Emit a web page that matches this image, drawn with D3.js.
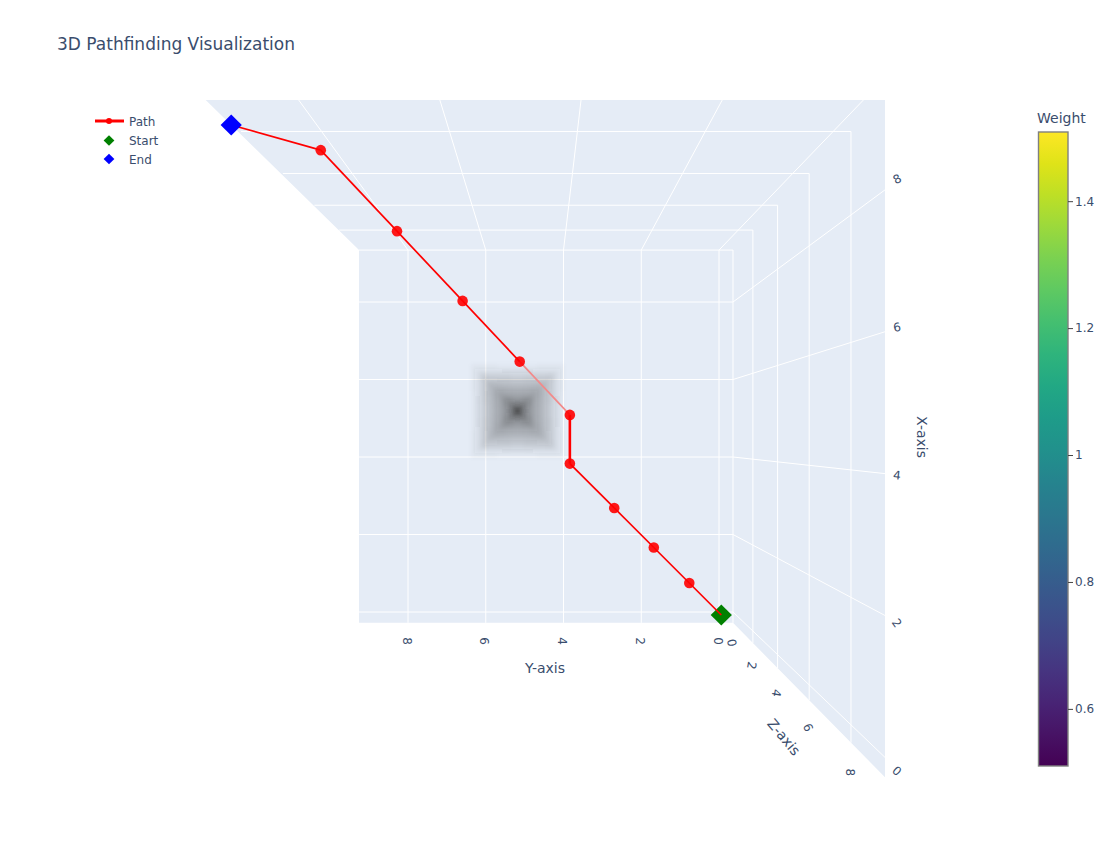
<!DOCTYPE html>
<html><head><meta charset="utf-8">
<script src="https://cdn.jsdelivr.net/npm/d3@7/dist/d3.min.js"></script>
<style>html,body{margin:0;padding:0;background:#fff}svg{display:block}text{font-family:"DejaVu Sans",Verdana,sans-serif;fill:#3a4d6d}</style>
</head><body><svg id="c" width="1118" height="856"></svg>
<script>
// ---- data ----
const chartTitle = "3D Pathfinding Visualization";
const pathX = [0,1,2,3,4,5,6,7,8,9,9];
const pathY = [0,1,2,3,4,4,5,6,7,8,9];
const pathZ = [0,1,2,3,4,4,5,6,7,8,9];
const fadedSegment = 5;
const axisTicks = [0,2,4,6,8];
const xRange = [-0.28,9.34], yRange = [-0.36,9.26], zRange = [0,9.26];
const obstacle = {x:5,y:5,z:5,halfSize:0.95};
// one quadrant of the obstacle's apparent opacity, centre first
const obstacleOpacity = [
 [.95,.66,.50,.42,.36,.30,.25,.19,.13,.07,.02],
 [.66,.68,.52,.43,.37,.31,.25,.19,.13,.07,.02],
 [.50,.52,.54,.45,.37,.31,.26,.20,.14,.07,.02],
 [.42,.43,.45,.46,.38,.32,.26,.20,.14,.07,.02],
 [.36,.37,.37,.38,.39,.32,.27,.20,.14,.08,.02],
 [.30,.31,.31,.32,.32,.33,.27,.21,.14,.08,.03],
 [.25,.25,.26,.26,.27,.27,.28,.21,.14,.08,.03],
 [.19,.19,.20,.20,.20,.21,.21,.22,.15,.08,.03],
 [.13,.13,.14,.14,.14,.14,.14,.15,.15,.08,.03],
 [.07,.07,.07,.07,.08,.08,.08,.08,.08,.08,.03],
 [.02,.02,.02,.02,.02,.03,.03,.03,.03,.03,.03]];
const colorbarDomain = [0.51,1.509];
const colorbarTicks = [0.6,0.8,1,1.2,1.4];
const legendItems = ["Path","Start","End"];
// text angles as they appear in the picture
const xTickAngles = [40,55,6,-10,-28];
const zTickAngles = [80,100,100,68,90];

// ---- projection ----
const svg = d3.select("#c");
const sideCentre = {cx:550, cy:437}, topCentre = {cx:542, cy:434};
const sy = d3.scaleLinear([0,8],[719,408]);
const sx = d3.scaleLinear([0,8],[612,302]);
const pathSy = d3.scaleLinear([0,9],[721.3,371.8]);
const pathSx = d3.scaleLinear([0,9],[615,262.6]);
const depth = d3.scaleLinear([0,8],[1,0.608]);
const projectWith = (c,X,Y,z)=>{const d=depth(z);return [c.cx+(X-c.cx)/d, c.cy+(Y-c.cy)/d];};
const project = (x,y,z,c=sideCentre)=>projectWith(c,sy(y),sx(x),z);
const markerPos = i=>projectWith(sideCentre,pathSy(pathY[i]),pathSx(pathX[i]),pathZ[i]);

svg.append("clipPath").attr("id","scene").append("rect").attr("x",0).attr("y",100).attr("width",885).attr("height",700);
const scene = svg.append("g").attr("clip-path","url(#scene)");

// walls
const [x0,x1]=xRange,[y0,y1]=yRange,[z0,z1]=zRange;
scene.append("polygon").attr("fill","#e5ecf6").attr("points",[
  project(x1,y1,z1),project(x1,y0,z1),project(x0,y0,z1),project(x0,y0,z0),
  project(x0,y1,z0),project(x1,y1,z0)].map(p=>p.join(",")).join(" "));

const gridSegs=[];
axisTicks.forEach(t=>{
  gridSegs.push([project(t,y0,z0),project(t,y1,z0)]);           // back wall, x
  gridSegs.push([project(x0,t,z0),project(x1,t,z0)]);           // back wall, y
  gridSegs.push([project(t,y0,z0),project(t,y0,z1)]);           // side wall, x
  gridSegs.push([project(x1,t,z0,topCentre),project(x1,t,z1,topCentre)]);   // top wall, y
  const corner=[project(x1,y0,t)[0],project(x1,y0,t,topCentre)[1]];
  gridSegs.push([project(x0,y0,t),corner]);                     // side wall, z
  gridSegs.push([corner,project(x1,y1,t,topCentre)]);           // top wall, z
});
scene.selectAll("line.grid").data(gridSegs).join("line").attr("class","grid")
  .attr("x1",d=>d[0][0]).attr("y1",d=>d[0][1]).attr("x2",d=>d[1][0]).attr("y2",d=>d[1][1])
  .attr("stroke","#fff").attr("stroke-width",1);

// obstacle
const defs=svg.append("defs");
defs.append("filter").attr("id","soft").attr("x","-20%").attr("y","-20%").attr("width","140%").attr("height","140%")
  .append("feGaussianBlur").attr("stdDeviation",2.2);
const oc=project(obstacle.x,obstacle.y,obstacle.z);
const oHalf=Math.abs(sy(obstacle.halfSize)-sy(0))/depth(obstacle.z);
const n=obstacleOpacity.length;
const cellOff=d3.scaleLinear([0,n],[0,oHalf]);
const cw=cellOff(1);
const cells=[];
for(let i=-n+1;i<n;i++)for(let j=-n+1;j<n;j++)cells.push({i,j,o:obstacleOpacity[Math.abs(j)][Math.abs(i)]});
scene.append("g").attr("filter","url(#soft)").selectAll("rect").data(cells).join("rect")
  .attr("x",d=>oc[0]+1+cellOff(d.i)-cw/2).attr("y",d=>oc[1]-1+cellOff(d.j)-cw/2)
  .attr("width",cw).attr("height",cw).attr("shape-rendering","crispEdges").attr("fill","#2e2e2e").attr("opacity",d=>d.o);

// path
const idx=d3.range(pathX.length);
scene.selectAll("line.path").data(idx.slice(0,-1)).join("line").attr("class","path")
  .attr("x1",i=>markerPos(i)[0]).attr("y1",i=>markerPos(i)[1])
  .attr("x2",i=>markerPos(i+1)[0]).attr("y2",i=>markerPos(i+1)[1])
  .attr("stroke",i=>i===fadedSegment?"#f28a8a":"#ff0000").attr("stroke-width",i=>i===4?2.6:1.7);
const diamond=(s)=>d3.symbol(d3.symbolSquare,s*s)();
const startPos=markerPos(0), endPos=markerPos(idx.length-1);
scene.insert("path","line.path").attr("d",diamond(15)).attr("fill","#008000")
  .attr("transform",`translate(${startPos}) rotate(45)`);
scene.selectAll("circle.node").data(idx.slice(1,-1)).join("circle").attr("class","node")
  .attr("cx",i=>markerPos(i)[0]).attr("cy",i=>markerPos(i)[1]).attr("r",5.3)
  .attr("fill","#ff0000").attr("fill-opacity",.9);
scene.append("path").attr("d",diamond(15)).attr("fill","#0000ff")
  .attr("transform",`translate(${endPos}) rotate(45)`);

// axis text
const tick=(x,y,t,a,size=12)=>svg.append("text").attr("transform",`translate(${x},${y}) rotate(${a})`)
  .attr("text-anchor","middle").attr("dy","0.36em").attr("font-size",size).text(t);
const xLabelY=d3.scaleLinear([0,8],[771,179]);
const yLabelX=d3.scaleLinear([0,8],[718,407]);
axisTicks.forEach((t,i)=>{
  tick(897,xLabelY(t),t,xTickAngles[i]);
  tick(yLabelX(t),641,t,90);
  const p=project(x0,y0,t);
  tick(p[0]-1,p[1]+20+1.2*t,t,zTickAngles[i]);
});
tick(545,668,"Y-axis",0,14);
tick(922,437,"X-axis",90,14);
tick(784,737,"Z-axis",50,14);

// title
svg.append("text").attr("x",57).attr("y",50).attr("font-size",17).text(chartTitle);

// legend
const legY=d3.scalePoint(legendItems,[121,159]);
svg.append("line").attr("x1",95).attr("x2",124).attr("y1",legY("Path")).attr("y2",legY("Path")).attr("stroke","#ff0000").attr("stroke-width",3);
svg.append("circle").attr("cx",109).attr("cy",legY("Path")).attr("r",3).attr("fill","#ff0000");
svg.append("path").attr("d",diamond(7.6)).attr("fill","#008000").attr("transform",`translate(109,${legY("Start")+.5}) rotate(45)`);
svg.append("path").attr("d",diamond(7.6)).attr("fill","#0000ff").attr("transform",`translate(109,${legY("End")}) rotate(45)`);
svg.selectAll("text.leg").data(legendItems).join("text").attr("class","leg")
  .attr("x",129).attr("y",d=>legY(d)+4.5).attr("font-size",12).text(d=>d);

// colorbar
const cbY=d3.scaleLinear(colorbarDomain,[766,132]);
const grad=defs.append("linearGradient").attr("id","vir").attr("x1",0).attr("x2",0).attr("y1",1).attr("y2",0);
d3.range(0,1.0001,0.05).forEach(t=>grad.append("stop").attr("offset",t).attr("stop-color",d3.interpolateViridis(t)));
svg.append("rect").attr("x",1038.5).attr("y",132).attr("width",29.5).attr("height",634)
  .attr("fill","url(#vir)").attr("stroke","#808080").attr("stroke-width",1.4);
const cbAxis=d3.axisRight(cbY).tickValues(colorbarTicks).tickSize(5).tickPadding(2).tickFormat(d=>d===1?"1":d3.format(".1f")(d));
const ag=svg.append("g").attr("transform","translate(1068,0)").call(cbAxis);
ag.select(".domain").remove();
ag.selectAll("line").attr("stroke","#444");
ag.selectAll("text").attr("font-size",12).style("font-family",'"DejaVu Sans"').attr("fill","#3a4d6d");
svg.append("text").attr("x",1037).attr("y",123).attr("font-size",14).text("Weight");
</script></body></html>
